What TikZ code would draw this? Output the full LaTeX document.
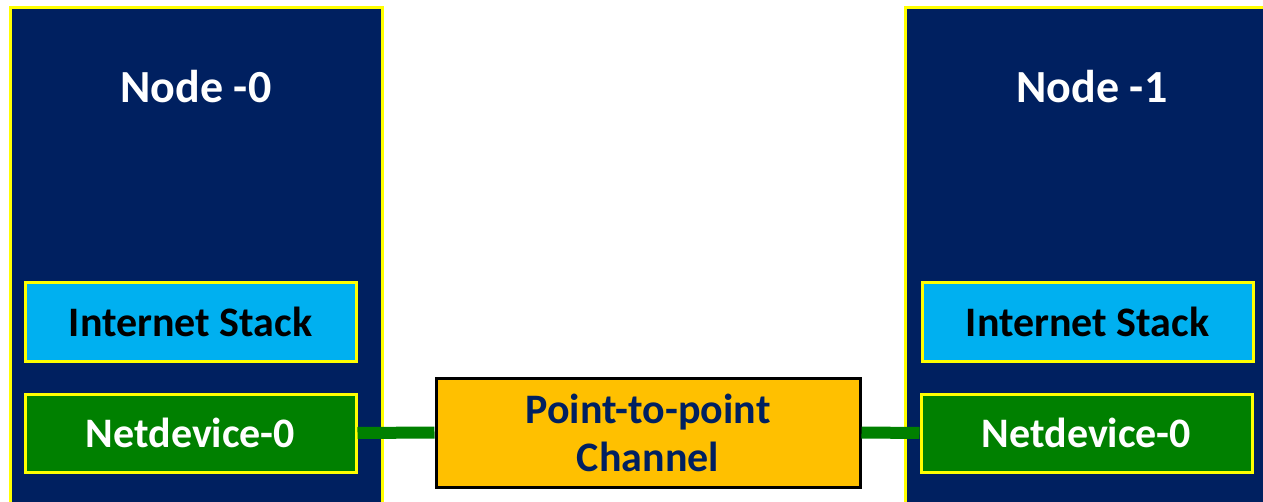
\documentclass[tikz,border=0pt]{standalone}
\usepackage{fontspec}
\setmainfont{Carlito}
\usepackage{tikz}
\usetikzlibrary{positioning}
\usepackage{xcolor}
\definecolor{nsnavy}{RGB}{0,32,96}
\definecolor{nsyellow}{RGB}{255,255,0}
\definecolor{nsblue}{RGB}{0,176,240}
\definecolor{nsgreen}{RGB}{0,128,0}
\definecolor{nsorange}{RGB}{255,192,0}
\tikzstyle{host} = [draw=nsyellow,fill=nsnavy,line width=3pt,inner sep=0pt,minimum height=532pt]
\tikzstyle{layer} = [draw=nsyellow,line width=3pt,inner sep=0pt,minimum width=331pt,minimum height=78pt,font=\fontsize{42}{48}\selectfont\bfseries]
\tikzstyle{wire} = [draw=nsgreen,line width=12pt,line cap=butt]

\begin{document}
\begin{tikzpicture}[x=1pt,y=-1pt]
\useasboundingbox (0,0) rectangle (1263,502);
\clip (0,0) rectangle (1263,502);

% Hosts
\node[host, minimum width=372pt] (host0) at (196,274) {};
\node[host, minimum width=374pt] (host1) at (1092,274) {};
\node[text=white, font=\fontsize{46}{52}\selectfont\bfseries] (title0) at (196,87) {Node -0};
\node[text=white, font=\fontsize{46}{52}\selectfont\bfseries] (title1) at (1092,87) {Node -1};

% Layers
\node[layer, fill=nsblue, text=black] (stack0) at (190.5,322) {Internet Stack};
\node[layer, fill=nsblue, text=black] (stack1) at (1087.5,322) {Internet Stack};
\node[layer, fill=nsgreen, text=white] (dev0) at (190.5,433) {Netdevice-0};
\node[layer, fill=nsgreen, text=white] (dev1) at (1086.5,433) {Netdevice-0};

% Channel
\node[draw=black, fill=nsorange, line width=3pt, minimum width=424pt, minimum height=109pt,
  align=center, text=nsnavy, font=\fontsize{42}{48}\selectfont\bfseries] (chan) at (648,432.5)
  {Point-to-point\\Channel};

% Links
\path[wire] (dev0.east) -- (chan.west);
\path[wire] (chan.east) -- (dev1.west);
\end{tikzpicture}
\end{document}
